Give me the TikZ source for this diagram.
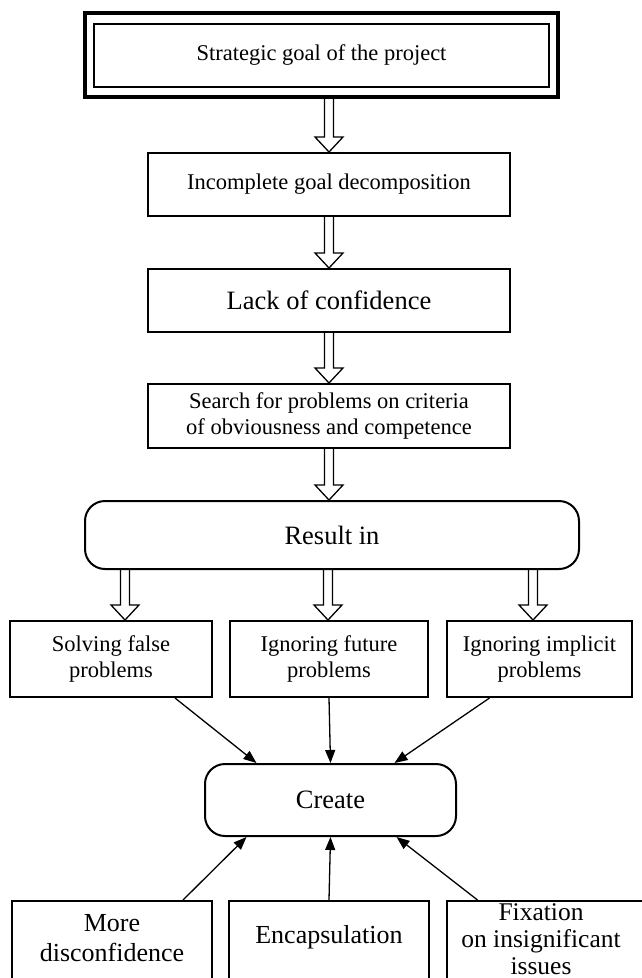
\documentclass[tikz,border=0pt]{standalone}
\usepackage{fontspec}
\setmainfont{Liberation Serif}
\usetikzlibrary{calc,arrows.meta}

% hollow block arrow from the bottom of #1 to the top of #2, shifted by #3 from #2's centre
\newcommand\fatarrow[3]{%
  \path[hollow] let \p1=(#1.south), \p2=(#2.north) in
    (\x2+#3pt-4.5pt,\y1) -- (\x2+#3pt-4.5pt,\y2+15pt) -- (\x2+#3pt-14pt,\y2+15pt)
    -- (\x2+#3pt,\y2) -- (\x2+#3pt+14pt,\y2+15pt) -- (\x2+#3pt+4.5pt,\y2+15pt)
    -- (\x2+#3pt+4.5pt,\y1);}

\begin{document}
\begin{tikzpicture}[x=1pt,y=-1pt,
  box/.style={draw, line width=2pt, align=center, inner sep=0pt},
  roundbox/.style={box, rounded corners=20pt},
  txt/.style={font=\fontsize{22.5}{26}\selectfont},
  bigtxt/.style={font=\fontsize{26.5}{31}\selectfont},
  lowtxt/.style={font=\fontsize{26}{30.5}\selectfont},
  tighttxt/.style={font=\fontsize{25.5}{27}\selectfont},
  conn/.style={line width=1.3pt, -{Triangle[length=13pt,width=10pt]}},
  hollow/.style={draw, line width=1.3pt, line join=miter}
]
\useasboundingbox (0,0) rectangle (642,978);
\clip (0,0) rectangle (642,978);

% goal: framed twice
\node[box, line width=4pt, minimum width=473, minimum height=84] (goal) at (321.5,55) {};
\node[box, minimum width=455, minimum height=63, txt] (goalin) at (321.5,55.5) {Strategic goal of the project};

% main chain
\node[box, minimum width=362, minimum height=63, txt] (inc) at (329,184.5) {Incomplete goal decomposition};
\node[box, minimum width=362, minimum height=63, bigtxt] (lack) at (329,300.5) {Lack of confidence};
\node[box, minimum width=362, minimum height=64, txt] (search) at (329,416)
  {Search for problems on criteria\\of obviousness and competence};
\node[roundbox, minimum width=494, minimum height=68, bigtxt] (res) at (332,535) {Result in};

% consequences
\node[box, minimum width=202, minimum height=76, txt] (s1) at (111,659) {Solving false\\problems};
\node[box, minimum width=198, minimum height=76, txt] (s2) at (329,659) {Ignoring future\\problems};
\node[box, minimum width=185, minimum height=76, txt] (s3) at (539.5,659) {Ignoring implicit\\problems};

\node[roundbox, minimum width=251, minimum height=72, bigtxt] (create) at (330.5,800) {Create};

% effects (boxes run past the lower edge)
\node[box, anchor=north, minimum width=200, minimum height=120] (b1) at (112,900) {};
\node[box, anchor=north, minimum width=200, minimum height=120] (b2) at (329,900) {};
\node[box, anchor=north, minimum width=213, minimum height=120] (b3) at (553.5,900) {};
\node[lowtxt, align=center] (t1) at (112,938) {More\\disconfidence};
\node[lowtxt, align=center] (t2) at (329,937) {Encapsulation};
\node[tighttxt, align=center] (t3) at (541,939) {Fixation\\on insignificant\\issues};

% hollow arrows
\fatarrow{goal}{inc}{0}
\fatarrow{inc}{lack}{0}
\fatarrow{lack}{search}{0}
\fatarrow{search}{res}{-3}
\fatarrow{res}{s1}{14}
\fatarrow{res}{s2}{-1}
\fatarrow{res}{s3}{-6.5}

% thin arrows into "Create"
\draw[conn] ([xshift=64]s1.south) -- ([xshift=-74]create.north);
\draw[conn] (s2.south) -- (create.north);
\draw[conn] ([xshift=-50]s3.south) -- ([xshift=64]create.north);
\draw[conn] ([xshift=71]b1.north) -- ([xshift=-84]create.south);
\draw[conn] (b2.north) -- (create.south);
\draw[conn] ([xshift=-76]b3.north) -- ([xshift=66]create.south);
\end{tikzpicture}
\end{document}
